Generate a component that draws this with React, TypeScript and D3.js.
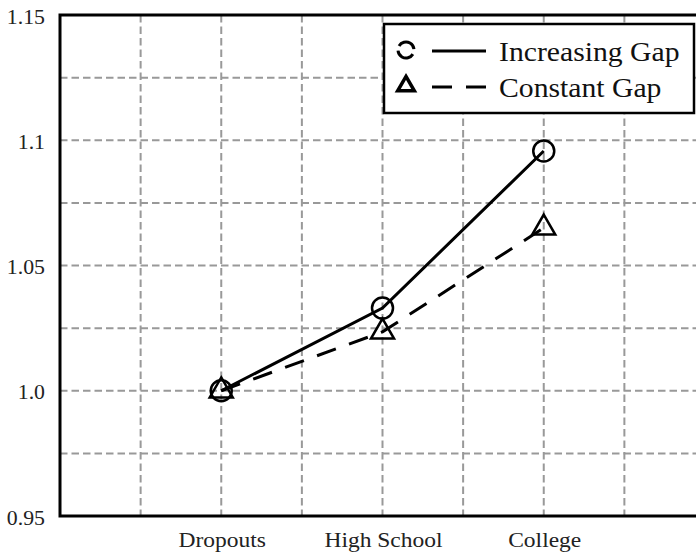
import React from "react";
import * as d3 from "d3";

const categories: string[] = ["Dropouts", "High School", "College"];
const increasingGap: number[] = [1.0, 1.033, 1.0957];
const constantGap: number[] = [1.0, 1.0235, 1.065];
const yTickValues: number[] = [0.95, 1.0, 1.05, 1.1, 1.15];
const yTickLabels: string[] = ["0.95", "1.0", "1.05", "1.1", "1.15"];
const yGridValues: number[] = [0.975, 1.0, 1.025, 1.05, 1.075, 1.1, 1.125];
const xGridValues: number[] = [-0.5, 0, 0.5, 1, 1.5, 2, 2.5];
const legendLabels: string[] = ["Increasing Gap", "Constant Gap"];

const W = 696;
const H = 555;
const FONT = "'Liberation Serif', 'Times New Roman', serif";

export default function App() {
  const x = d3.scaleLinear().domain([-1, 3]).range([60, 705]);
  const y = d3.scaleLinear().domain([0.95, 1.15]).range([516, 15]);

  const line = d3
    .line<number>()
    .x((_, i) => x(i))
    .y((d) => y(d));

  const tri = d3.symbol().type(d3.symbolTriangle).size(230)();
  const triLegend = d3.symbol().type(d3.symbolTriangle).size(120)();

  const left = x(-1);
  const right = x(3);
  const top = y(1.15);
  const bottom = y(0.95);

  return (
    <svg
      width={W}
      height={H}
      style={{ position: "absolute", left: 0, top: 0, background: "#fff" }}
    >
      <rect x={0} y={0} width={W} height={H} fill="#fff" />
      {/* grid */}
      {yGridValues.map((v) => (
        <line
          key={"gy" + v}
          x1={left}
          x2={right}
          y1={y(v)}
          y2={y(v)}
          stroke="#999"
          strokeWidth={2}
          strokeDasharray="7.5,4"
        />
      ))}
      {xGridValues.map((v) => (
        <line
          key={"gx" + v}
          x1={x(v)}
          x2={x(v)}
          y1={top}
          y2={bottom}
          stroke="#999"
          strokeWidth={2}
          strokeDasharray="7.5,4"
        />
      ))}
      {/* frame */}
      <rect
        x={left}
        y={top}
        width={right - left}
        height={bottom - top}
        fill="none"
        stroke="#000"
        strokeWidth={3}
      />
      {/* y tick labels */}
      {yTickValues.map((v, i) => (
        <text
          key={"yt" + v}
          transform={`translate(45,${y(v) + 8.5}) scale(1.09,1)`}
          textAnchor="end"
          fontFamily={FONT}
          fontSize={20}
          fill="#222"
        >
          {yTickLabels[i]}
        </text>
      ))}
      {/* x tick labels */}
      {categories.map((c, i) => (
        <text
          key={"xt" + c}
          transform={`translate(${x(i) + 1},547) scale(1.12,1)`}
          textAnchor="middle"
          fontFamily={FONT}
          fontSize={21}
          fill="#222"
        >
          {c}
        </text>
      ))}
      {/* series */}
      <path
        d={line(constantGap) || ""}
        fill="none"
        stroke="#000"
        strokeWidth={3}
        strokeDasharray="20,14"
      />
      <path d={line(increasingGap) || ""} fill="none" stroke="#000" strokeWidth={3} />
      {constantGap.map((v, i) => (
        <path
          key={"t" + i}
          d={tri || ""}
          transform={`translate(${x(i)},${y(v)})`}
          fill="none"
          stroke="#000"
          strokeWidth={2.5}
        />
      ))}
      {increasingGap.map((v, i) => (
        <circle
          key={"c" + i}
          cx={x(i)}
          cy={y(v)}
          r={10.5}
          fill="none"
          stroke="#000"
          strokeWidth={2.5}
        />
      ))}
      {/* legend */}
      <rect
        x={384}
        y={24}
        width={310}
        height={89}
        fill="#fff"
        stroke="#000"
        strokeWidth={2.5}
      />
      <circle
        cx={406}
        cy={50}
        r={8}
        fill="none"
        stroke="#000"
        strokeWidth={3}
        strokeDasharray="20,5.1"
        transform="rotate(-150 406 50)"
      />
      <line x1={432} x2={486} y1={51} y2={51} stroke="#000" strokeWidth={3} />
      <path d={triLegend || ""} transform="translate(406,86)" fill="none" stroke="#000" strokeWidth={3.5} />
      <line
        x1={432}
        x2={486}
        y1={87}
        y2={87}
        stroke="#000"
        strokeWidth={3}
        strokeDasharray="20,14"
      />
      {legendLabels.map((l, i) => (
        <text
          key={l}
          transform={`translate(499,${61 + i * 36}) scale(1.1,1)`}
          fontFamily={FONT}
          fontSize={27}
          fill="#111"
        >
          {l}
        </text>
      ))}
    </svg>
  );
}
